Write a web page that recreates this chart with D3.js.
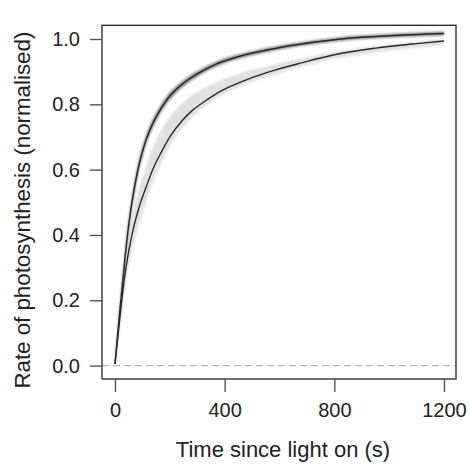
<!DOCTYPE html>
<html>
<head>
<meta charset="utf-8">
<script src="https://cdn.jsdelivr.net/npm/d3@7"></script>
<style>
  html, body { margin: 0; padding: 0; background: #fff; }
  svg { display: block; }
  text { font-family: "Liberation Sans", Arial, sans-serif; fill: #222; }
</style>
</head>
<body>
<svg id="chart" width="469" height="464"></svg>
<script>
// ---- data ----
const xTicks = [0, 400, 800, 1200];
const yTicks = [0.0, 0.2, 0.4, 0.6, 0.8, 1.0];

// fast series (dark band)
const fastTime = [0, 10, 22, 36, 50, 60, 70, 85, 100, 115, 137, 160, 190, 220, 249, 300, 371, 450, 529, 650, 800, 1000, 1200];
const fastRate = [0.005, 0.1, 0.205, 0.325, 0.43, 0.49, 0.54, 0.605, 0.655, 0.695, 0.74, 0.776, 0.815, 0.843, 0.864, 0.893, 0.924, 0.946, 0.962, 0.981, 0.998, 1.01, 1.017];
const fastLow  = [0.005, 0.088, 0.185, 0.303, 0.408, 0.47, 0.52, 0.587, 0.638, 0.68, 0.726, 0.763, 0.803, 0.832, 0.854, 0.884, 0.916, 0.939, 0.955, 0.975, 0.992, 1.004, 1.011];
const fastHigh = [0.005, 0.112, 0.225, 0.347, 0.452, 0.51, 0.56, 0.623, 0.672, 0.71, 0.754, 0.789, 0.827, 0.854, 0.874, 0.902, 0.932, 0.953, 0.969, 0.987, 1.004, 1.016, 1.023];

// slow series (light band)
const slowTime = [0, 10, 22, 35, 50, 70, 90, 115, 140, 170, 200, 240, 280, 320, 370, 430, 500, 580, 680, 800, 950, 1100, 1200];
const slowRate = [0.005, 0.085, 0.18, 0.27, 0.35, 0.43, 0.49, 0.55, 0.605, 0.655, 0.7, 0.745, 0.78, 0.805, 0.833, 0.858, 0.882, 0.904, 0.927, 0.952, 0.972, 0.986, 0.994];
const slowLow  = [0.005, 0.065, 0.145, 0.23, 0.305, 0.38, 0.44, 0.505, 0.565, 0.62, 0.67, 0.72, 0.76, 0.788, 0.818, 0.844, 0.869, 0.891, 0.914, 0.939, 0.959, 0.973, 0.981];
const slowHigh = [0.005, 0.105, 0.215, 0.315, 0.40, 0.485, 0.55, 0.615, 0.672, 0.722, 0.762, 0.8, 0.828, 0.848, 0.868, 0.887, 0.905, 0.922, 0.94, 0.961, 0.979, 0.992, 0.999];

const xTitle = "Time since light on (s)";
const yTitle = "Rate of photosynthesis (normalised)";

// ---- layout ----
const svg = d3.select("#chart");
const padL = 102, padR = 456, padT = 25.3, padB = 379;

const x = d3.scaleLinear().domain([-47.4, 1243.8]).range([padL, padR]);
const y = d3.scaleLinear().domain([-0.041, 1.042]).range([padB, padT]);

const defs = svg.append("defs");
defs.append("clipPath").attr("id", "clip")
  .append("rect").attr("x", padL).attr("y", padT).attr("width", padR - padL).attr("height", padB - padT);
defs.append("filter").attr("id", "soft").attr("x", "-5%").attr("y", "-5%").attr("width", "110%").attr("height", "110%")
  .append("feGaussianBlur").attr("stdDeviation", 0.9);
defs.append("filter").attr("id", "softer").attr("x", "-5%").attr("y", "-5%").attr("width", "110%").attr("height", "110%")
  .append("feGaussianBlur").attr("stdDeviation", 1.3);

const plot = svg.append("g").attr("clip-path", "url(#clip)");

// zero reference line
plot.append("line")
  .attr("x1", padL).attr("x2", padR)
  .attr("y1", y(0)).attr("y2", y(0))
  .attr("stroke", "#b5b5b5").attr("stroke-width", 1.3)
  .attr("stroke-dasharray", "7,4");

function bandData(t, lo, hi) { return t.map((d, i) => ({t: d, lo: lo[i], hi: hi[i]})); }
function lineData(t, v) { return t.map((d, i) => ({t: d, v: v[i]})); }

const area = d3.area().x(d => x(d.t)).y0(d => y(d.lo)).y1(d => y(d.hi)).curve(d3.curveMonotoneX);
const line = d3.line().x(d => x(d.t)).y(d => y(d.v)).curve(d3.curveMonotoneX);

plot.append("path").datum(bandData(slowTime, slowLow, slowHigh))
  .attr("d", area).attr("fill", "#e0e0e0").attr("filter", "url(#softer)");
plot.append("path").datum(bandData(fastTime, fastLow, fastHigh))
  .attr("d", area).attr("fill", "#8c8c8c").attr("filter", "url(#soft)");

plot.append("path").datum(lineData(slowTime, slowRate))
  .attr("d", line).attr("fill", "none").attr("stroke", "#2a2a2a").attr("stroke-width", 1.4);
plot.append("path").datum(lineData(fastTime, fastRate))
  .attr("d", line).attr("fill", "none").attr("stroke", "#2a2a2a").attr("stroke-width", 1.5);

// box
svg.append("rect")
  .attr("x", padL).attr("y", padT).attr("width", padR - padL).attr("height", padB - padT)
  .attr("fill", "none").attr("stroke", "#333").attr("stroke-width", 1.4);

// axes
const xAxis = d3.axisBottom(x).tickValues(xTicks).tickSize(13).tickPadding(11).tickFormat(d3.format("d"));
const gx = svg.append("g").attr("transform", `translate(0,${padB})`).call(xAxis);
gx.select(".domain").remove();
gx.selectAll(".tick line").attr("stroke", "#555").attr("stroke-width", 1.4);
gx.selectAll(".tick text").attr("font-size", 20).attr("fill", "#222")
  .style("font-family", "'Liberation Sans', Arial, sans-serif");

const yAxis = d3.axisLeft(y).tickValues(yTicks).tickSize(12).tickPadding(10).tickFormat(d3.format(".1f"));
const gy = svg.append("g").attr("transform", `translate(${padL},0)`).call(yAxis);
gy.select(".domain").remove();
gy.selectAll(".tick line").attr("stroke", "#555").attr("stroke-width", 1.4);
gy.selectAll(".tick text").attr("font-size", 20).attr("fill", "#222")
  .style("font-family", "'Liberation Sans', Arial, sans-serif");

// titles
svg.append("text")
  .attr("x", (padL + padR) / 2 + 4).attr("y", 457)
  .attr("text-anchor", "middle").attr("font-size", 22)
  .text(xTitle);

svg.append("text")
  .attr("transform", `translate(30,${(padT + padB) / 2 + 8}) rotate(-90)`)
  .attr("text-anchor", "middle").attr("font-size", 22.3)
  .text(yTitle);
</script>
</body>
</html>
